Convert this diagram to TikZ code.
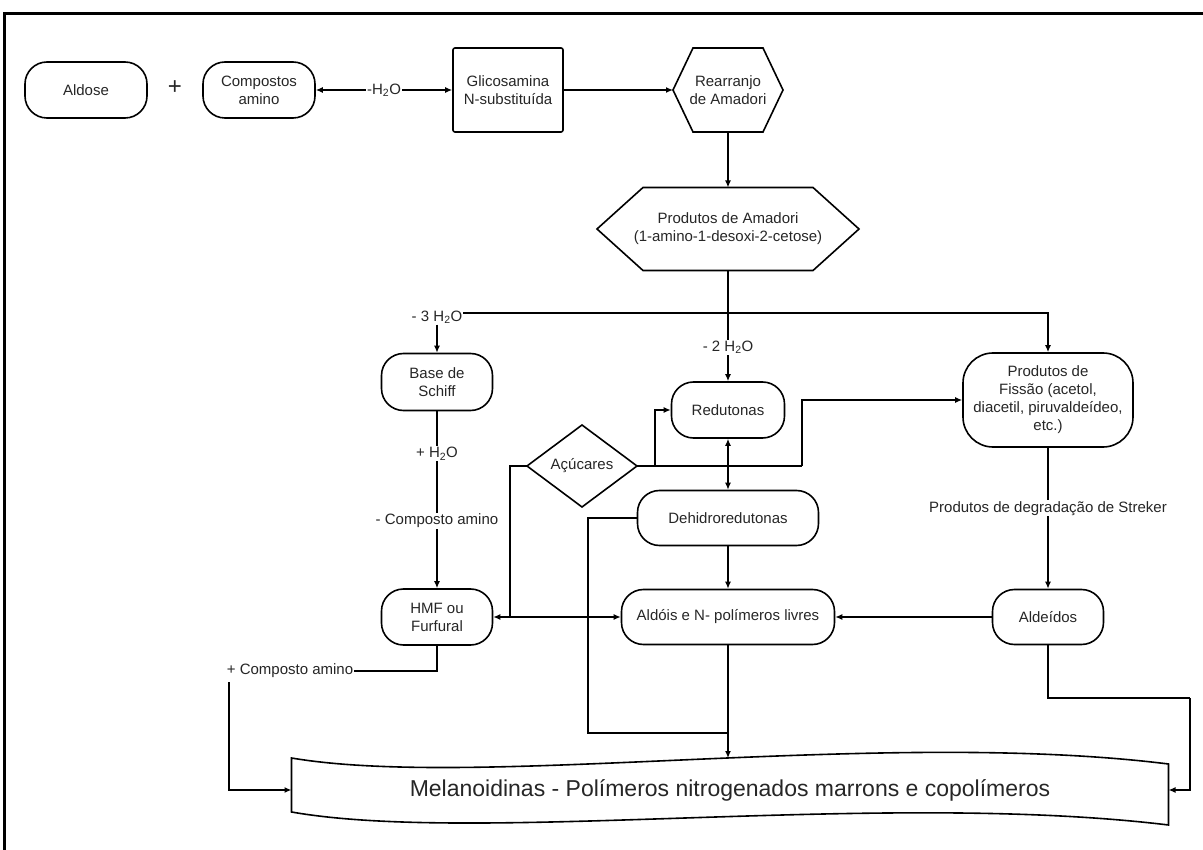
\documentclass[tikz,border=0pt]{standalone}
\usepackage{fontspec}
\setmainfont{Liberation Sans}
\usetikzlibrary{arrows.meta,calc}

\begin{document}
\begin{tikzpicture}[x=1pt,y=-1pt,
    font=\fontsize{15}{18}\selectfont,
    every node/.style={text=black!85},
    pill/.style={draw,line width=1.6pt,rounded corners=22pt,align=center,minimum height=56pt,inner sep=2pt},
    box/.style={draw,line width=1.6pt,rounded corners=2pt,align=center,minimum width=110pt,minimum height=84pt},
    outline/.style={align=center,inner sep=0pt,outer sep=0pt},
    rim/.style={line width=1.6pt},
    conn/.style={line width=1.3pt},
    arr/.style={conn,-{Latex[length=7pt,width=6pt]}},
    both/.style={conn,{Latex[length=7pt,width=6pt]}-{Latex[length=7pt,width=6pt]}},
    lbl/.style={fill=white,inner sep=1pt}]

    \useasboundingbox (0,0) rectangle (1203,850);
    \draw[line width=3pt] (4,850) -- (4,14) -- (1203,14);

    \node[pill,minimum width=122pt] (Aldose) at (86,90) {Aldose};
    \node (Plus) at (175,88) {\fontsize{24}{24}\selectfont +};
    \node[pill,minimum width=112pt] (Amino) at (259,90) {Compostos\\amino};
    \node[box] (Glico) at (508,90) {Glicosamina\\N-substituída};
    \node[outline,minimum width=110pt,minimum height=84pt] (Rearr) at (728,90) {Rearranjo\\de Amadori};
    \node[outline,minimum width=262pt,minimum height=83pt] (Amadori) at (728,229) {Produtos de Amadori\\(1-amino-1-desoxi-2-cetose)};
    \node[pill,minimum width=111pt,minimum height=57pt] (Schiff) at (437,382) {Base de\\Schiff};
    \node[pill,minimum width=111pt] (Hmf) at (437,617) {HMF ou\\Furfural};
    \node[outline,minimum width=110pt,minimum height=82pt] (Acucar) at (582,466) {Açúcares};
    \node[pill,minimum width=113pt] (Redut) at (728,410) {Redutonas};
    \node[pill,minimum width=181pt,minimum height=55pt] (Dehidro) at (728,518) {Dehidroredutonas};
    \node[pill,minimum width=213pt,minimum height=55pt] (Aldois) at (728,617) {Aldóis e N- polímeros livres};
    \node[pill,minimum width=170pt,minimum height=94pt,rounded corners=30pt] (Fissao) at (1048,400) {Produtos de\\Fissão (acetol,\\diacetil, piruvaldeídeo,\\etc.)};
    \node[pill,minimum width=111pt,minimum height=55pt] (Aldeidos) at (1048,617) {Aldeídos};
    \node[outline,minimum width=877pt,minimum height=64pt] (Melan) at (730,790) {\fontsize{23}{26}\selectfont Melanoidinas - Polímeros nitrogenados marrons e copolímeros};

    \node[lbl] (W3) at (437,317) {- 3 H\textsubscript{2}O};
    \node[lbl] (Amino2) at (290,671) {+ Composto amino};

    \coordinate (J1) at (728,313);
    \coordinate (J2) at (510,617);
    \coordinate (J3) at (655,466);
    \coordinate (J4) at (802,466);
    \coordinate (J5) at (728,733);
    \coordinate (J6) at (588,733);
    \coordinate (J7) at (1190,698);
    \coordinate (C1) at (229,682);

    \draw[rim] (Rearr.west) -- ($(Rearr.north west)+(20,0)$) -- ($(Rearr.north east)+(-20,0)$) -- (Rearr.east) -- ($(Rearr.south east)+(-20,0)$) -- ($(Rearr.south west)+(20,0)$) -- cycle;
    \draw[rim] (Amadori.west) -- ($(Amadori.north west)+(46,0)$) -- ($(Amadori.north east)+(-46,0)$) -- (Amadori.east) -- ($(Amadori.south east)+(-46,0)$) -- ($(Amadori.south west)+(46,0)$) -- cycle;
    \draw[rim] (Acucar.west) -- (Acucar.north) -- (Acucar.east) -- (Acucar.south) -- cycle;
    \draw[rim] (Melan.north west) .. controls (480,790) and (880,728) .. ($(Melan.north east)+(0,6)$) -- ($(Melan.south east)+(0,3)$) .. controls (880,790) and (480,845) .. ($(Melan.south west)+(0,-10)$) -- cycle;

    \draw[both] (Amino.east) -- node[lbl] {-H\textsubscript{2}O} (Glico.west);
    \draw[arr] (Glico.east) -- (Rearr.west);
    \draw[arr] (Rearr.south) -- (Amadori.north);
    \draw[conn] (Amadori.south) -- (J1);
    \draw[conn] (J1) -- (J1 -| W3.east);
    \draw[arr] (W3.south) -- (Schiff.north);
    \draw[arr] (J1) -| (Fissao.north);
    \draw[arr] (J1) -- node[lbl] {- 2 H\textsubscript{2}O} (Redut.north);
    \draw[arr] (Schiff.south) -- node[lbl,pos=0.24] {+ H\textsubscript{2}O} node[lbl,pos=0.62] {- Composto amino} (Hmf.north);
    \draw[conn] (Hmf.south) |- (Amino2.east);
    \draw[arr] (C1) |- (Melan.west);
    \draw[conn] (Acucar.west) -| (J2);
    \draw[arr] (J2) -- (Hmf.east);
    \draw[arr] (J2) -- (Aldois.west);
    \draw[conn] (Acucar.east) -- (J4);
    \draw[arr] (J3) |- (Redut.west);
    \draw[arr] (J4) |- (Fissao.west);
    \draw[both] (Redut.south) -- (Dehidro.north);
    \draw[arr] (Dehidro.south) -- (Aldois.north);
    \draw[conn] (Dehidro.west) -| (J6) -- (J5);
    \draw[arr] (Aldois.south) -- (Aldois.south |- Melan.north);
    \draw[arr] (Aldeidos.west) -- (Aldois.east);
    \draw[arr] (Fissao.south) -- node[lbl,pos=0.43] {Produtos de degradação de Streker} (Aldeidos.north);
    \draw[conn] (Aldeidos.south) |- (J7);
    \draw[arr] (J7) |- (Melan.east);
\end{tikzpicture}
\end{document}
